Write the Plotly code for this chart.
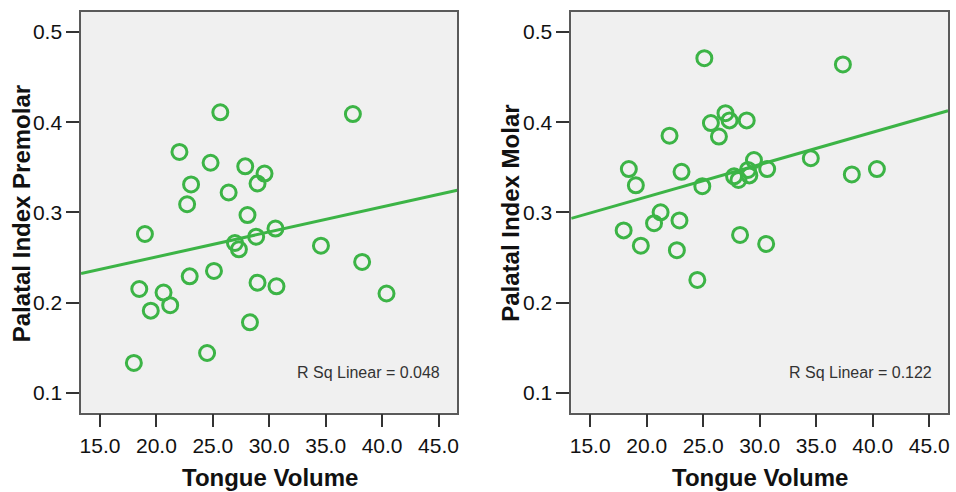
import numpy as np
import plotly.graph_objects as go

# ---- data ----
premolar_volume = [25.66, 37.41, 22.04, 24.80, 27.87, 29.58, 28.96, 23.07, 26.40, 22.72,
                   28.07, 18.98, 30.55, 28.84, 26.96, 27.31, 34.58, 38.23, 25.10, 22.95,
                   18.48, 20.63, 28.96, 30.64, 40.39, 19.50, 21.22, 28.29, 24.49, 18.00]
premolar_index = [0.411, 0.409, 0.367, 0.355, 0.351, 0.343, 0.332, 0.331, 0.322, 0.309,
                  0.297, 0.276, 0.282, 0.273, 0.266, 0.259, 0.263, 0.245, 0.235, 0.229,
                  0.215, 0.211, 0.222, 0.218, 0.210, 0.191, 0.197, 0.178, 0.144, 0.133]

molar_volume = [25.10, 37.36, 26.97, 27.33, 25.68, 28.85, 22.02, 26.39, 29.49, 34.52,
                18.42, 23.08, 30.66, 40.37, 38.15, 28.96, 29.08, 27.73, 28.12, 19.04,
                24.92, 21.23, 20.65, 22.90, 17.96, 28.26, 19.48, 30.57, 22.67, 24.48]
molar_index = [0.471, 0.464, 0.410, 0.402, 0.399, 0.402, 0.385, 0.384, 0.358, 0.360,
               0.348, 0.345, 0.348, 0.348, 0.342, 0.347, 0.341, 0.340, 0.336, 0.330,
               0.329, 0.300, 0.288, 0.291, 0.280, 0.275, 0.263, 0.265, 0.258, 0.225]

x_ticks = [15, 20, 25, 30, 35, 40, 45]
x_tick_labels = ["15.0", "20.0", "25.0", "30.0", "35.0", "40.0", "45.0"]
y_ticks = [0.1, 0.2, 0.3, 0.4, 0.5]
y_tick_labels = ["0.1", "0.2", "0.3", "0.4", "0.5"]
y_titles = ["Palatal Index Premolar", "Palatal Index Molar"]
x_title = "Tongue Volume"
r2_labels = ["R Sq Linear = 0.048", "R Sq Linear = 0.122"]

X_RANGE = [13.32, 46.66]
Y_RANGE = [0.0778, 0.5222]
GREEN = "rgb(60,180,70)"
FONT = "Liberation Sans, Arial, sans-serif"

fig = go.Figure()

datasets = [(premolar_volume, premolar_index), (molar_volume, molar_index)]
for i, (xs, ys) in enumerate(datasets):
    xa = "x" if i == 0 else "x2"
    ya = "y" if i == 0 else "y2"
    slope, intercept = np.polyfit(xs, ys, 1)
    lx = np.array(X_RANGE)
    fig.add_trace(go.Scatter(x=lx, y=slope * lx + intercept, mode="lines",
                             line=dict(color=GREEN, width=3), xaxis=xa, yaxis=ya,
                             hoverinfo="skip", showlegend=False))
    fig.add_trace(go.Scatter(x=xs, y=ys, mode="markers",
                             marker=dict(symbol="circle-open", size=15, color=GREEN,
                                         line=dict(width=3, color=GREEN)),
                             xaxis=xa, yaxis=ya, showlegend=False))

W, H = 956, 492
doms_x = [[80.3 / W, 457.7 / W], [572 / W, 950 / W]]
dom_y = [1 - 412.7 / H, 1 - 12 / H]

axis_common = dict(showline=True, linecolor="#5a5a5a", linewidth=1.5, mirror=True,
                   showgrid=False, zeroline=False, ticks="outside", ticklen=13,
                   tickwidth=1.5, tickcolor="#333333",
                   tickfont=dict(family=FONT, size=21, color="#111111"))

layout = dict(width=W, height=H, margin=dict(l=0, r=0, t=0, b=0),
              paper_bgcolor="white", plot_bgcolor="#f0f0f0", showlegend=False)
for i in range(2):
    sx = "" if i == 0 else "2"
    layout["xaxis" + sx] = dict(axis_common, domain=doms_x[i], range=X_RANGE,
                                tickvals=x_ticks, ticktext=x_tick_labels,
                                anchor="y" + sx)
    layout["yaxis" + sx] = dict(axis_common, domain=dom_y, range=Y_RANGE,
                                tickvals=y_ticks, ticktext=y_tick_labels,
                                anchor="x" + sx)
fig.update_layout(**layout)

annotations = []
title_x_centers = [270 / W, 761 / W]
ytitle_x = [20 / W, 511 / W]
r2_right = [442 / W, 936 / W]
for i in range(2):
    annotations.append(dict(text="<b>" + x_title + "</b>", x=title_x_centers[i], y=1 - 477 / H,
                            xref="paper", yref="paper", showarrow=False,
                            xanchor="center", yanchor="middle",
                            font=dict(family=FONT, size=24, color="#111111")))
    annotations.append(dict(text="<b>" + y_titles[i] + "</b>", x=ytitle_x[i], y=1 - 213.4 / H,
                            xref="paper", yref="paper", showarrow=False, textangle=-90,
                            xanchor="center", yanchor="middle",
                            font=dict(family=FONT, size=24, color="#111111")))
    annotations.append(dict(text=r2_labels[i], x=r2_right[i], y=1 - 372 / H,
                            xref="paper", yref="paper", showarrow=False,
                            xanchor="right", yanchor="middle",
                            font=dict(family=FONT, size=16, color="#333333")))
fig.update_layout(annotations=annotations)

fig.write_html("out.html", config={"displayModeBar": False},
               post_script="document.body.style.margin='0px';document.body.style.overflow='hidden';")
